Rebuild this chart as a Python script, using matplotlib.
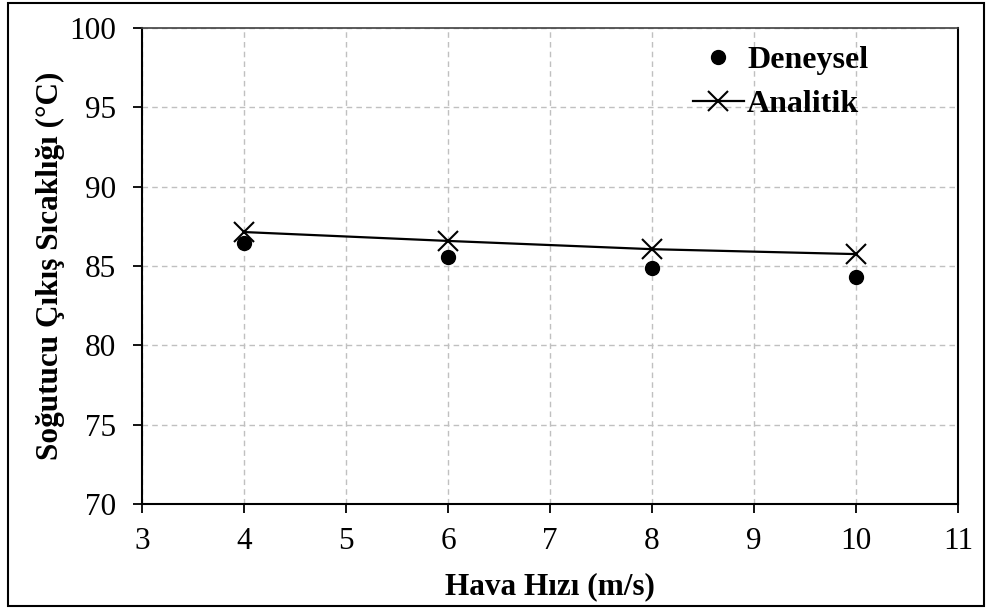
import matplotlib
matplotlib.use("Agg")
from matplotlib import pyplot as plt
from matplotlib.patches import Rectangle

# values
hiz = [4, 6, 8, 10]
deneysel = [86.42, 85.54, 84.9, 84.3]
analitik = [87.14, 86.58, 86.06, 85.75]

x_ticks = [3, 4, 5, 6, 7, 8, 9, 10, 11]
y_ticks = [70, 75, 80, 85, 90, 95, 100]

plt.rcParams['font.family'] = ['Liberation Serif', 'DejaVu Serif']

fig = plt.figure(figsize=(9.87, 6.09), dpi=100)
ax = fig.add_axes([142/987, 1 - 504/609, (958-142)/987, (504-28)/609])

ax.plot(hiz, deneysel, linestyle='none', marker='o', markersize=10,
        color='black', label='Deneysel', zorder=3)
ax.plot(hiz, analitik, color='black', linewidth=1.6, marker='x',
        markersize=14, markeredgewidth=1.5, label='Analitik', zorder=3)

ax.set_xlim(3, 11)
ax.set_ylim(70, 100)
ax.set_xticks(x_ticks)
ax.set_yticks(y_ticks)
ax.tick_params(axis='both', direction='out', length=6.5, width=1.3,
               labelsize=22.5, colors='black')
ax.tick_params(axis='y', pad=12)
ax.tick_params(axis='x', pad=10)
ax.grid(True, linestyle=(0, (4, 3)), color='#c0c0c0', linewidth=1)
ax.set_axisbelow(True)
for side in ['left', 'bottom', 'right']:
    ax.spines[side].set_linewidth(1.5)
    ax.spines[side].set_color('black')
ax.spines['top'].set_linewidth(1.2)
ax.spines['top'].set_color('#404040')

ax.set_xlabel('Hava Hızı (m/s)', fontsize=22.5, fontweight='bold', labelpad=12)
ax.set_ylabel('Soğutucu Çıkış Sıcaklığı (°C)', fontsize=22.5,
              fontweight='bold', labelpad=3)

ax.legend(loc='upper left', bbox_to_anchor=(680/987, 1 - 33/609),
          bbox_transform=fig.transFigure, frameon=False,
          prop={'size': 23, 'weight': 'bold'}, handlelength=1.6,
          handletextpad=0.1, labelspacing=0.45, borderaxespad=0)

# outer frame around the whole picture
fig.patches.append(Rectangle((8/987, 3/609), (984-8)/987, (606-3)/609,
                             transform=fig.transFigure, fill=False,
                             edgecolor='black', linewidth=1.5))

fig.savefig('out.png', dpi=100)
